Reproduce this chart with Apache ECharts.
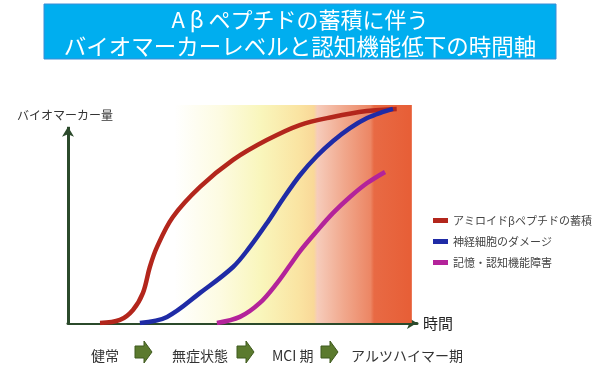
<!DOCTYPE html>
<html>
<head>
<meta charset="utf-8">
<script src="https://cdn.jsdelivr.net/npm/echarts@6/dist/echarts.min.js"></script>
<style>
  html, body { margin:0; padding:0; background:#fff; }
  #chart { width:600px; height:377px; }
</style>
</head>
<body>
<div id="chart"></div>
<script>
// ===== data (x: time 0..100, y: biomarker level 0..100) =====
const titleLines = ['A β ペプチドの蓄積に伴う', 'バイオマーカーレベルと認知機能低下の時間軸'];
const seriesNames = ['アミロイドβペプチドの蓄積', '神経細胞のダメージ', '記憶・認知機能障害'];
const amyloid = [[9.3,0],[15.1,1.4],[18.9,6],[21.8,13.8],[23.8,25.7],[25.9,34.9],[30.5,48.6],[38.4,62.4],[48,74.8],[57.8,83.9],[67.4,90.8],[77,94.5],[86.9,97.2],[95.6,98.2]];
const neuron  = [[20.9,0],[28.8,2.8],[38.4,13.8],[48,25.7],[52.9,34.9],[57.9,45.9],[62.5,56.9],[67.5,67.9],[72.4,76.6],[77.1,83.5],[82,89.4],[87,94],[91.6,96.8],[94.5,98.2]];
const memory  = [[43.3,0],[50,2.8],[55.8,9.2],[60.8,18.3],[64.6,26.6],[67.5,33],[72.4,42.2],[77.1,50.5],[82,57.8],[87,64.2],[92.2,69.3]];
const stages = ['健常', '無症状態', 'MCI 期', 'アルツハイマー期'];
const stageX = [86, 167, 267, 346];     // label left edges (px)
const arrowX = [135, 237, 321];          // stage arrows (px)
const yName = 'バイオマーカー量';
const xName = '時間';

const colors = ['#b3261c', '#1f2ba6', '#b3239a'];
const FONT = '"Noto Sans CJK JP", sans-serif';

const chart = echarts.init(document.getElementById('chart'), null, { renderer:'canvas' });

// background phases: white -> yellow -> salmon -> orange-red
const bgGradient = new echarts.graphic.LinearGradient(0, 0, 1, 0, [
  { offset: 0,     color: '#ffffff' },
  { offset: 0.31,  color: '#ffffff' },
  { offset: 0.44,  color: '#fdfbe2' },
  { offset: 0.56,  color: '#f9f6bc' },
  { offset: 0.67,  color: '#fae4a2' },
  { offset: 0.715, color: '#f9d898' },
  { offset: 0.725, color: '#f6ccbb' },
  { offset: 0.8,   color: '#f1a98e' },
  { offset: 0.88,  color: '#ec8664' },
  { offset: 0.89,  color: '#e86a44' },
  { offset: 1,     color: '#e75e36' }
]);

const stageArrow = x => ({
  type: 'polygon',
  shape: { points: [[x,346],[x+9,346],[x+9,341],[x+17,352],[x+9,363],[x+9,358],[x,358]] },
  style: { fill: '#5b7a2e', stroke: '#3f5a1e', lineWidth: 1 }
});

const option = {
  animation: false,
  textStyle: { fontFamily: FONT },
  grid: { left: 68, right: 183, top: 105, bottom: 54 },
  xAxis: {
    type: 'value', min: 0, max: 101.5,
    axisLine: { show: true, symbol: ['none','arrow'], symbolSize: [9,10], lineStyle: { color: '#2b4a2b', width: 3 } },
    axisTick: { show: false }, axisLabel: { show: false }, splitLine: { show: false },
    name: xName, nameLocation: 'end', nameGap: 6,
    nameTextStyle: { color: '#222', fontSize: 15, fontFamily: FONT }
  },
  yAxis: {
    type: 'value', min: 0, max: 100,
    axisLine: { show: false }, axisTick: { show: false }, axisLabel: { show: false }, splitLine: { show: false }
  },
  legend: {
    data: seriesNames,
    orient: 'vertical', left: 428, top: 210,
    icon: 'rect', itemWidth: 15, itemHeight: 5, itemGap: 10,
    textStyle: { color: '#444', fontSize: 11, fontFamily: FONT }
  },
  title: [
    { text: yName, left: 12, top: 104, textStyle: { color: '#333', fontSize: 12, fontWeight: 'normal', fontFamily: FONT } },
    ...stages.map((s, i) => ({
      text: s, left: stageX[i], top: 344,
      textStyle: { color: '#333', fontSize: 14, fontWeight: 'normal', fontFamily: FONT }
    }))
  ],
  graphic: [
    { type: 'rect', shape: { x: 44, y: 4, width: 512, height: 55 }, style: { fill: '#00aeef', stroke: '#3a8cd6', lineWidth: 1 }, z: 0 },
    { type: 'text', x: 300, y: 20, style: { text: titleLines[0], fill: '#fff', font: '22px ' + FONT, align: 'center', verticalAlign: 'middle' }, z: 1 },
    { type: 'text', x: 300, y: 46, style: { text: titleLines[1], fill: '#fff', font: '22.5px ' + FONT, align: 'center', verticalAlign: 'middle' }, z: 1 },
    ...arrowX.map(stageArrow)
  ],
  series: [
    {
      name: seriesNames[0], type: 'line', data: amyloid, smooth: 0.35, showSymbol: false,
      lineStyle: { color: colors[0], width: 4.5 }, itemStyle: { color: colors[0] }, z: 3,
      markArea: {
        silent: true, z: 1,
        itemStyle: { color: bgGradient },
        data: [[{ coord: [0, 0] }, { coord: [100, 100] }]]
      },
      markLine: {
        silent: true, symbol: ['none','arrow'], symbolSize: [9,10],
        label: { show: false },
        lineStyle: { color: '#2b4a2b', width: 3, type: 'solid' },
        data: [[{ coord: [0, 0] }, { coord: [0, 90] }]]
      }
    },
    {
      name: seriesNames[1], type: 'line', data: neuron, smooth: 0.35, showSymbol: false,
      lineStyle: { color: colors[1], width: 4.5 }, itemStyle: { color: colors[1] }, z: 3
    },
    {
      name: seriesNames[2], type: 'line', data: memory, smooth: 0.35, showSymbol: false,
      lineStyle: { color: colors[2], width: 4.5 }, itemStyle: { color: colors[2] }, z: 3
    }
  ]
};

chart.setOption(option);
</script>
</body>
</html>
